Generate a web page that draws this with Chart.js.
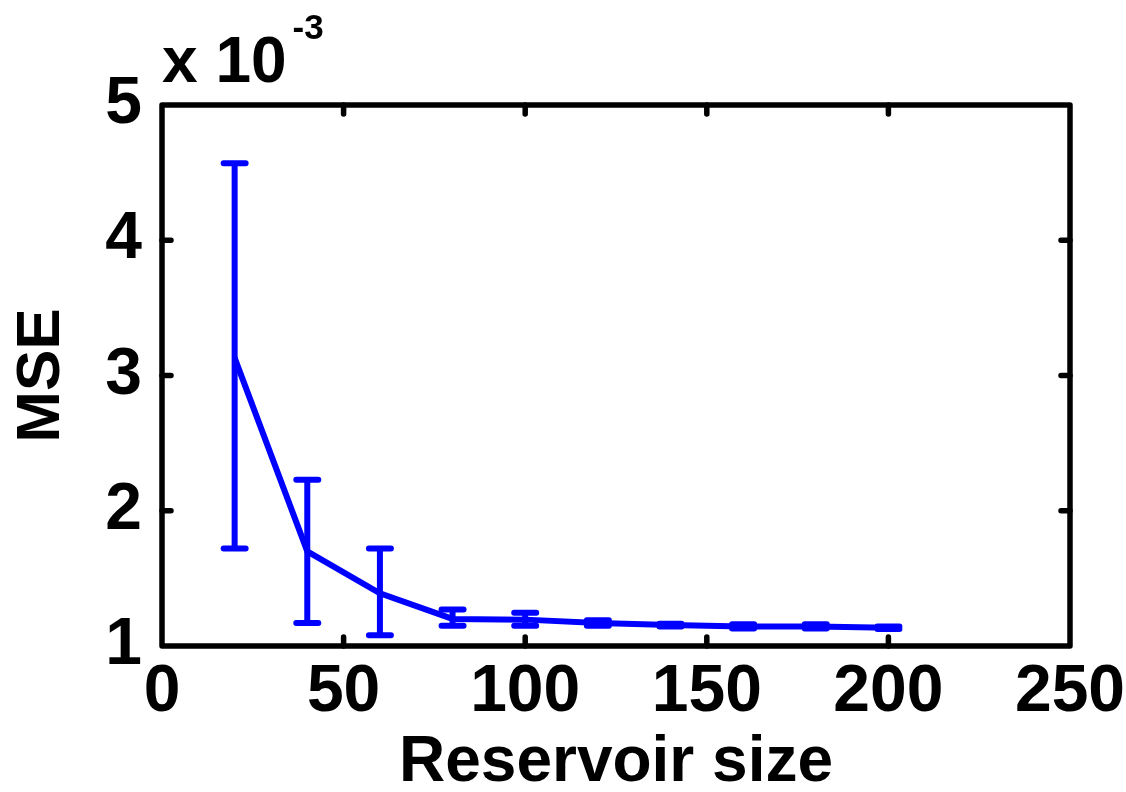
<!DOCTYPE html>
<html>
<head>
<meta charset="utf-8">
<title>MSE vs reservoir size</title>
<script src="https://cdn.jsdelivr.net/npm/chart.js@4.4.1/dist/chart.umd.min.js"></script>
<style>
  html, body { margin: 0; padding: 0; background: #fff; }
  #wrap { width: 1126px; height: 792px; }
</style>
</head>
<body>
<div id="wrap"><canvas id="mseChart" width="1126" height="792"></canvas></div>
<script>
// reservoir sizes and MSE (in units of 1e-3)
const reservoirSize = [20, 40, 60, 80, 100, 120, 140, 160, 180, 200];
const mseMean = [3.13, 1.70, 1.39, 1.20, 1.195, 1.17, 1.155, 1.145, 1.145, 1.135];
const mseLow = [1.72, 1.17, 1.08, 1.15, 1.15, 1.15, 1.145, 1.13, 1.13, 1.125];
const mseHigh = [4.57, 2.23, 1.72, 1.27, 1.245, 1.19, 1.165, 1.16, 1.16, 1.145];
const xTicks = [0, 50, 100, 150, 200, 250];
const yTicks = [1, 2, 3, 4, 5];

const FONT = "'Liberation Sans', Arial, Helvetica, sans-serif";
const BLUE = '#0000ff';

// matlab style box with inward ticks + error bars + exponent label
const matlabAxes = {
    id: 'matlabAxes',
    afterDatasetsDraw(chart) {
        const ctx = chart.ctx;
        const xs = chart.scales.x;
        const ys = chart.scales.y;
        const a = chart.chartArea;

        ctx.save();
        // error bars
        ctx.strokeStyle = BLUE;
        ctx.lineWidth = 6;
        ctx.lineCap = 'round';
        const capHalf = 11;
        for (let i = 0; i < reservoirSize.length; i++) {
            const px = xs.getPixelForValue(reservoirSize[i]);
            const lo = ys.getPixelForValue(mseLow[i]);
            const hi = ys.getPixelForValue(mseHigh[i]);
            ctx.beginPath();
            ctx.moveTo(px, lo);
            ctx.lineTo(px, hi);
            ctx.moveTo(px - capHalf, lo);
            ctx.lineTo(px + capHalf, lo);
            ctx.moveTo(px - capHalf, hi);
            ctx.lineTo(px + capHalf, hi);
            ctx.stroke();
        }

        // box
        ctx.strokeStyle = '#000';
        ctx.lineWidth = 5.5;
        ctx.lineJoin = 'round';
        ctx.strokeRect(a.left, a.top, a.right - a.left, a.bottom - a.top);

        // inward ticks on all four sides
        const tl = 9;
        ctx.beginPath();
        xTicks.forEach(function(v) {
            if (v === xTicks[0] || v === xTicks[xTicks.length - 1]) return;
            const px = xs.getPixelForValue(v);
            ctx.moveTo(px, a.bottom);
            ctx.lineTo(px, a.bottom - tl);
            ctx.moveTo(px, a.top);
            ctx.lineTo(px, a.top + tl);
        });
        yTicks.forEach(function(v) {
            if (v === yTicks[0] || v === yTicks[yTicks.length - 1]) return;
            const py = ys.getPixelForValue(v);
            ctx.moveTo(a.left, py);
            ctx.lineTo(a.left + tl, py);
            ctx.moveTo(a.right, py);
            ctx.lineTo(a.right - tl, py);
        });
        ctx.stroke();

        // exponent label
        ctx.fillStyle = '#000';
        ctx.textBaseline = 'alphabetic';
        ctx.textAlign = 'left';
        ctx.font = 'bold 64px ' + FONT;
        ctx.fillText('x 10', a.left, 82);
        const w = ctx.measureText('x 10').width;
        ctx.font = 'bold 35px ' + FONT;
        ctx.fillText('-3', a.left + w + 6, 39);
        ctx.restore();
    }
};

new Chart(document.getElementById('mseChart'), {
    type: 'line',
    data: {
        datasets: [{
            label: 'MSE',
            data: reservoirSize.map(function(x, i) { return { x: x, y: mseMean[i] }; }),
            borderColor: BLUE,
            borderWidth: 6,
            pointRadius: 0,
            fill: false,
            tension: 0
        }]
    },
    options: {
        responsive: false,
        animation: false,
        layout: { padding: { top: 105, right: 56, left: 0, bottom: 0 } },
        plugins: {
            legend: { display: false },
            tooltip: { enabled: false }
        },
        scales: {
            x: {
                type: 'linear',
                min: 0,
                max: 250,
                grid: { display: false, drawTicks: false },
                border: { display: false },
                afterBuildTicks: function(scale) {
                    scale.ticks = xTicks.map(function(v) { return { value: v }; });
                },
                afterFit: function(scale) {
                    scale.height = 146;
                    scale.paddingLeft = 0;
                    scale.paddingRight = 0;
                },
                ticks: {
                    color: '#000',
                    padding: 7,
                    maxRotation: 0,
                    font: { family: FONT, size: 66, weight: 'bold' }
                },
                title: {
                    display: true,
                    text: 'Reservoir size',
                    color: '#000',
                    padding: 0,
                    font: { family: FONT, size: 64, weight: 'bold', lineHeight: 0.88 }
                }
            },
            y: {
                type: 'linear',
                min: 1,
                max: 5,
                grid: { display: false, drawTicks: false },
                border: { display: false },
                afterBuildTicks: function(scale) {
                    scale.ticks = yTicks.map(function(v) { return { value: v }; });
                },
                afterFit: function(scale) {
                    scale.width = 162;
                    scale.paddingTop = 0;
                    scale.paddingBottom = 0;
                },
                ticks: {
                    color: '#000',
                    padding: 20,
                    font: { family: FONT, size: 66, weight: 'bold' }
                },
                title: {
                    display: true,
                    text: 'MSE',
                    color: '#000',
                    padding: { top: 5, bottom: 0 },
                    font: { family: FONT, size: 62, weight: 'bold', lineHeight: 1.2 }
                }
            }
        }
    },
    plugins: [matlabAxes]
});
</script>
</body>
</html>
